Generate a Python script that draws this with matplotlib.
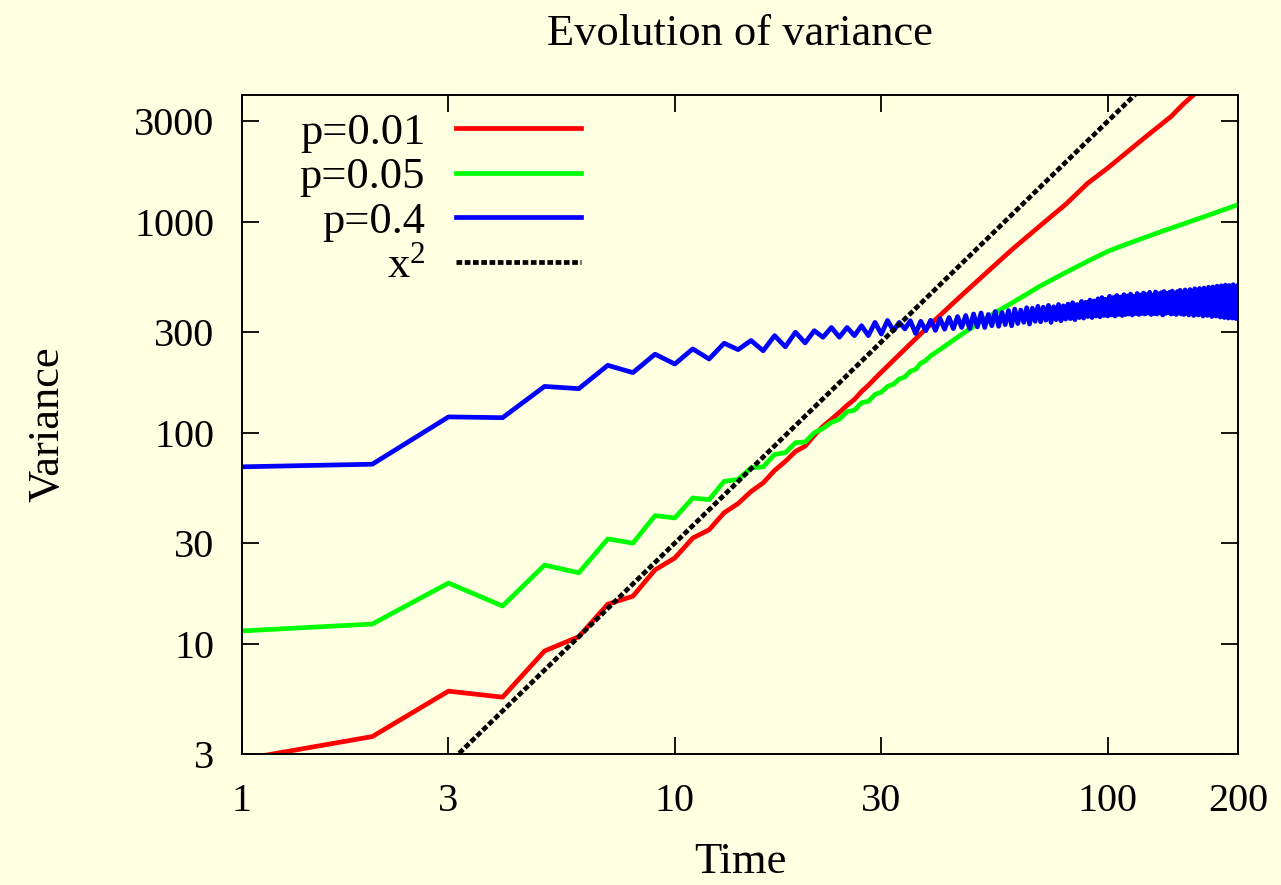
import matplotlib
matplotlib.use("Agg")
import matplotlib.pyplot as plt
import numpy as np

# ---------------- data ----------------
red_t = list(range(1, 31)) + [35, 40, 45, 50, 60, 70, 80, 90, 100, 120, 140, 150, 160, 180, 200]
red_v = [2.83, 3.63, 5.96, 5.58, 9.24, 10.8, 15.4, 16.8, 22.4, 25.5,
         31.7, 34.7, 41.8, 46.2, 52.7, 57.9, 66.3, 73.2, 81.6, 86.5,
         97.3, 107.4, 115.9, 125, 135, 144, 157, 168, 181, 194,
         264, 344, 431, 525, 737, 964, 1212, 1528, 1800, 2450, 3157, 3643, 4100, 5100, 6200]

green_t = list(range(1, 41)) + [45, 50, 55, 60, 70, 80, 90, 100, 110, 120, 135, 150, 175, 200]
green_v = [11.5, 12.4, 19.4, 15.1, 23.6, 21.7, 31.4, 30.0, 40.5, 39.5,
           49.1, 48.2, 58.9, 60.1, 68.3, 69.0, 79.0, 80.5, 89.8, 90.5,
           100, 105, 112, 116, 126, 128, 139, 141, 152, 156,
           166, 170, 180, 184, 196, 200, 214, 220, 232, 240,
           284, 329, 372, 412, 498, 576, 652, 725, 782, 834, 910, 980, 1095, 1207]

blue_t = list(range(1, 201))
blue_v = [69, 71, 119, 118, 166, 162, 209, 193, 236, 212,
          250, 224, 266, 248, 274, 245, 289, 256, 300, 267,
          305, 284, 316, 284, 316, 289, 322, 289, 334, 294,
          341, 305, 334, 311, 340, 296, 338, 305, 342, 306,
          348, 310, 352, 312, 356, 316, 360, 312, 366, 318,
          370, 316, 364, 322, 376, 320, 372, 326, 380, 322,
          386, 330, 382, 334, 392, 328, 390, 338, 398, 336,
          394, 342, 402, 334, 396, 344, 406, 340, 400, 346,
          408, 348, 414, 344, 406, 352, 420, 350, 416, 356,
          426, 352, 422, 358, 432, 355, 438, 360, 430, 358,
          444, 362, 438, 358, 448, 364, 440, 360, 452, 364,
          446, 366, 455, 362, 444, 368, 458, 364, 450, 368,
          460, 366, 452, 370, 464, 364, 450, 368, 466, 366,
          456, 370, 462, 362, 468, 368, 458, 372, 464, 366,
          470, 368, 460, 364, 468, 370, 474, 366, 462, 364,
          476, 370, 464, 362, 478, 368, 468, 360, 482, 366,
          472, 362, 484, 368, 470, 358, 486, 364, 474, 360,
          490, 366, 478, 356, 492, 362, 480, 358, 496, 364,
          482, 354, 498, 360, 486, 352, 502, 358, 488, 350,
          500, 356, 490, 350, 504, 354, 492, 348, 498, 352]

ref_coef = 0.3          # reference curve c * x^2
ref_t = [1, 200]

labels = ["p=0.01", "p=0.05", "p=0.4", r"x$^2$"]
xticks = [1, 3, 10, 30, 100, 200]
yticks = [3, 10, 30, 100, 300, 1000, 3000]

# ---------------- style ----------------
plt.rcParams['font.family'] = ['Liberation Serif', 'DejaVu Serif']
plt.rcParams['mathtext.fontset'] = 'custom'
plt.rcParams['mathtext.rm'] = 'Liberation Serif'
plt.rcParams['mathtext.it'] = 'Liberation Serif:italic'
bg = '#ffffe2'
FS = 32
TFS = 29

fig = plt.figure(figsize=(12.81, 8.85), dpi=100, facecolor=bg)
ax = fig.add_axes([0.1889, 0.148, 0.9664 - 0.1889, 0.8927 - 0.148])
ax.set_facecolor(bg)

lw = 3.4
ax.plot(red_t, red_v, color='#ff0000', lw=lw, label=labels[0])
ax.plot(green_t, green_v, color='#00ff00', lw=lw, label=labels[1])
ax.plot(blue_t, blue_v, color='#0000ff', lw=lw, label=labels[2])
rx = np.array(ref_t, dtype=float)
ax.plot(rx, ref_coef * rx ** 2, color='black', lw=lw, dashes=(1.2, 0.55),
        dash_capstyle='butt', label=labels[3])

ax.set_xscale('log')
ax.set_yscale('log')
ax.set_xlim(1, 200)
ax.set_ylim(3, 4000)
ax.set_xticks(xticks)
ax.set_xticklabels([str(v) for v in xticks])
ax.set_yticks(yticks)
ax.set_yticklabels([str(v) for v in yticks])
ax.minorticks_off()
ax.tick_params(axis='both', which='major', direction='in', length=12, width=1.3,
               labelsize=TFS, top=True, right=True)
ax.tick_params(axis='x', pad=21)
ax.tick_params(axis='y', pad=20)
for s in ax.spines.values():
    s.set_linewidth(1.4)

ax.set_title("Evolution of variance", fontsize=FS, pad=36)
ax.set_xlabel("Time", fontsize=FS, labelpad=16)
ax.set_ylabel("Variance", fontsize=FS, labelpad=48)

leg = ax.legend(loc='upper right', bbox_to_anchor=(0.340, 0.973), frameon=False,
                markerfirst=False, fontsize=FS, handlelength=2.8,
                handletextpad=0.7, labelspacing=0.1, borderaxespad=0.0,
                borderpad=0.0)
for line in leg.get_lines():
    line.set_linewidth(lw)

fig.savefig("out.png", dpi=100, facecolor=bg)
